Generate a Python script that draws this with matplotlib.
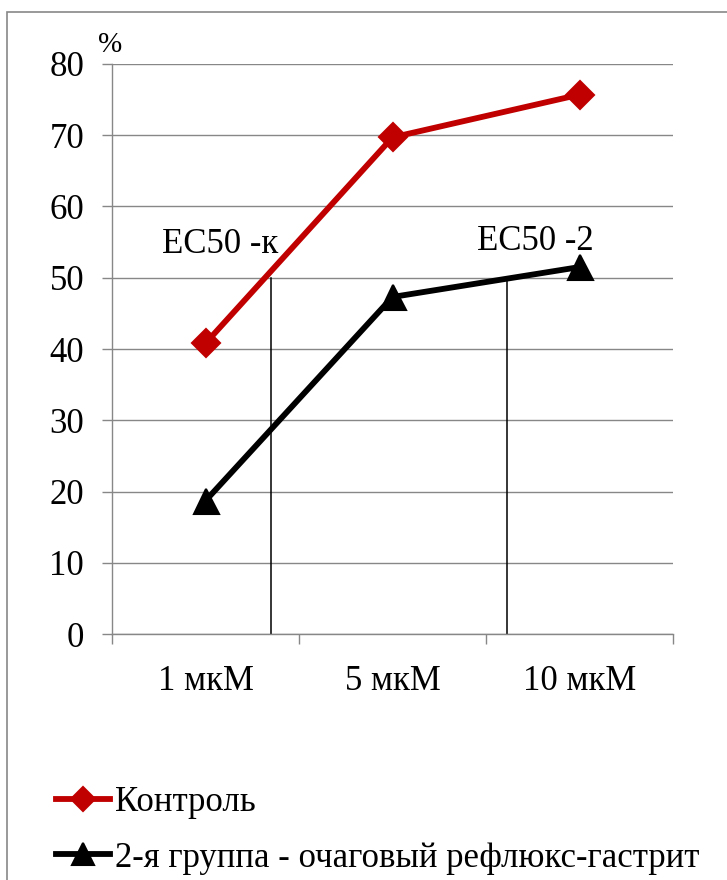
import matplotlib
matplotlib.use("Agg")
import matplotlib.pyplot as plt
from matplotlib.patches import Rectangle
from matplotlib.ticker import FixedLocator

plt.rcParams['font.family'] = ['Liberation Serif', 'DejaVu Serif']

# Data
categories = ['1 мкМ', '5 мкМ', '10 мкМ']
control = [40.8, 69.7, 75.7]
gastritis = [18.7, 47.3, 51.5]
series_labels = ['Контроль', '2-я группа - очаговый рефлюкс-гастрит']
ec50_x = [0.35, 1.61]          # position along the category axis
ec50_level = 50
ec50_labels = ['EC50 -к', 'EC50 -2']
y_ticks = list(range(0, 90, 10))

GRID = '#878787'
RED = '#C00000'

W, H = 727, 880
fig = plt.figure(figsize=(W / 100, H / 100), dpi=100)

# outer chart frame (runs off the right and bottom edges)
fig.patches.append(Rectangle((7 / W, -0.1), 1.2, (H - 12) / H + 0.1,
                             transform=fig.transFigure, fill=False,
                             edgecolor=GRID, linewidth=1.2))

ax = fig.add_axes([112 / W, 1 - 634 / H, (673 - 112) / W, (634 - 64) / H])
x = list(range(len(categories)))

ax.set_xlim(-0.5, len(categories) - 0.5)
ax.set_ylim(0, 80)
ax.set_yticks(y_ticks)
ax.grid(axis='y', color=GRID, linewidth=1.0)
ax.set_axisbelow(True)

for s in ('top', 'right'):
    ax.spines[s].set_visible(False)
for s in ('left', 'bottom'):
    ax.spines[s].set_color(GRID)
    ax.spines[s].set_linewidth(1.0)

ax.tick_params(axis='y', direction='out', length=7, width=1.0, color=GRID,
               pad=13, labelsize=25)
ax.set_xticks(x)
ax.set_xticklabels(categories)
ax.tick_params(axis='x', which='major', length=0, pad=22, labelsize=25)
ax.xaxis.set_minor_locator(FixedLocator([i - 0.5 for i in range(len(categories) + 1)]))
ax.tick_params(axis='x', which='minor', direction='out', length=7, width=1.0, color=GRID)

# EC50 drop lines
for xv in ec50_x:
    ax.plot([xv, xv], [0, ec50_level], color='black', linewidth=1.1, zorder=2)
ax.text(ec50_x[0] - 0.27, 54.6, ec50_labels[0], fontsize=25, ha='center',
        va='center')
ax.text(ec50_x[1] + 0.155, 55.1, ec50_labels[1], fontsize=25, ha='center',
        va='center')

ax.plot(x, control, color=RED, linewidth=4.2, marker='D', markersize=14,
        markeredgecolor=RED, markeredgewidth=1.5, label=series_labels[0], zorder=4)
ax.plot(x, gastritis, color='black', linewidth=4.2, marker='^', markersize=18,
        markeredgecolor='black', markeredgewidth=1.5, label=series_labels[1], zorder=4)

fig.text(110 / W, 1 - 45 / H, '%', fontsize=21, ha='center', va='center')

leg = ax.legend(loc='upper left', bbox_to_anchor=(56 / W, 1 - 786 / H),
                bbox_transform=fig.transFigure, frameon=False, fontsize=25,
                borderpad=0, borderaxespad=0, handlelength=1.55,
                handletextpad=0.15, labelspacing=0.65, markerscale=0.9)

fig.savefig('out.png', dpi=100)
